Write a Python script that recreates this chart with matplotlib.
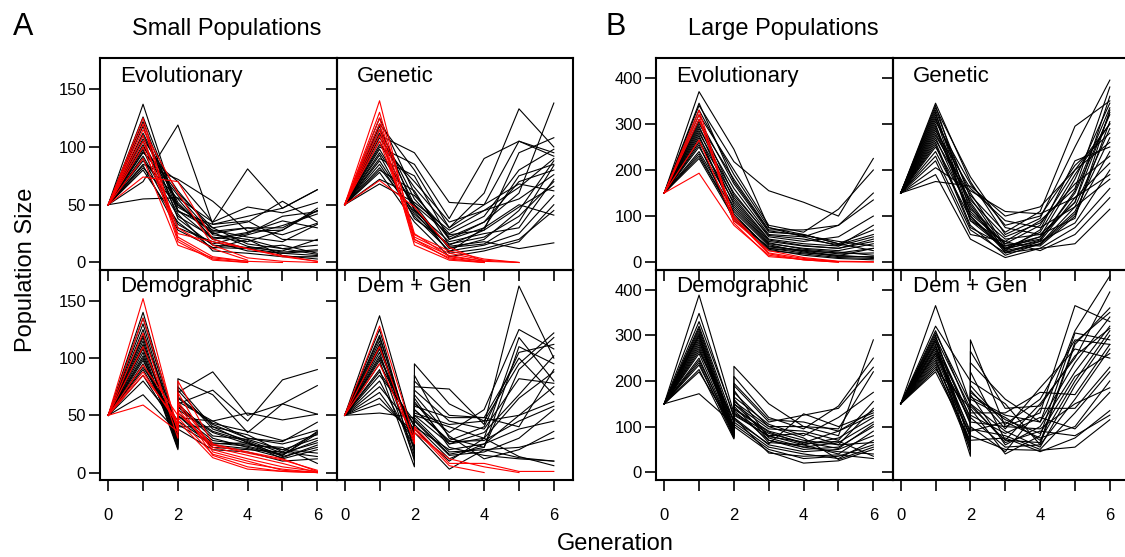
import matplotlib.pyplot as plt

# Generaciones (en los tratamientos "Dem" hay dos valores en la generacion 2)
gens = [0, 1, 2, 3, 4, 5, 6]
gens_dem = [0, 1, 2, 2, 3, 4, 5, 6]

# ---------------- Poblaciones pequeñas ----------------
small_evo_black = [
    [50, 137, 45, 20, 12, 8, 6],
    [50, 70, 119, 33, 40, 47, 63],
    [50, 55, 56, 35, 81, 47, 63],
    [50, 85, 72, 53, 27, 28, 45],
    [50, 95, 70, 35, 48, 43, 52],
    [50, 100, 60, 30, 35, 53, 35],
    [50, 110, 50, 25, 30, 30, 45],
    [50, 105, 45, 28, 22, 18, 33],
    [50, 92, 40, 22, 18, 28, 47],
    [50, 88, 55, 20, 25, 40, 44],
    [50, 118, 38, 15, 13, 10, 20],
    [50, 80, 35, 12, 20, 12, 15],
    [50, 98, 30, 18, 10, 8, 10],
    [50, 126, 48, 30, 16, 12, 7],
    [50, 102, 42, 10, 8, 5, 5],
    [50, 84, 28, 13, 12, 15, 8],
    [50, 112, 52, 21, 26, 36, 30],
    [50, 96, 58, 24, 20, 6, 3],
    [50, 90, 33, 16, 24, 32, 42],
    [50, 107, 62, 27, 30, 24, 34],
    [50, 122, 44, 33, 36, 20, 19],
    [50, 82, 50, 26, 14, 9, 11],
]
small_evo_red = [
    [50, 125, 22, 5, 1],
    [50, 120, 20, 3, 0],
    [50, 110, 18, 2, 0],
    [50, 74, 70, 20, 12, 6, 1],
    [50, 100, 25, 18, 12, 5, 1],
    [50, 90, 15, 4, 1, 0],
    [50, 105, 30, 12, 2],
    [50, 115, 60, 15, 4, 1, 0],
]

small_gen_black = [
    [50, 120, 80, 30, 60, 133, 100],
    [50, 110, 95, 52, 50, 105, 95],
    [50, 100, 85, 38, 90, 105, 92],
    [50, 90, 75, 20, 35, 60, 138],
    [50, 80, 62, 15, 28, 95, 108],
    [50, 72, 58, 25, 40, 80, 98],
    [50, 95, 50, 12, 20, 45, 88],
    [50, 105, 45, 18, 25, 30, 72],
    [50, 85, 40, 10, 15, 25, 58],
    [50, 115, 55, 22, 35, 70, 80],
    [50, 68, 52, 28, 45, 65, 90],
    [50, 98, 48, 8, 12, 20, 45],
    [50, 88, 42, 14, 18, 12, 17],
    [50, 125, 60, 20, 30, 75, 85],
    [50, 78, 35, 5, 10, 18, 50],
    [50, 108, 65, 30, 50, 68, 62],
    [50, 93, 38, 16, 22, 40, 70],
    [50, 102, 70, 35, 45, 55, 76],
    [50, 82, 44, 9, 30, 50, 41],
    [50, 112, 50, 24, 28, 48, 66],
    [50, 118, 46, 13, 16, 35, 84],
]
small_gen_red = [
    [50, 140, 20, 3, 0],
    [50, 130, 25, 5, 1],
    [50, 120, 15, 2, 0],
    [50, 110, 22, 8, 2, 0],
    [50, 71, 48, 13, 1, 0],
    [50, 115, 18, 4, 0],
    [50, 125, 20, 6, 1],
    [50, 105, 24, 10, 3, 0],
]

small_dem_black = [
    [50, 140, 35, 70, 88, 50, 60, 51],
    [50, 130, 28, 60, 72, 45, 81, 90],
    [50, 120, 40, 82, 68, 35, 60, 76],
    [50, 115, 22, 48, 45, 52, 46, 51],
    [50, 110, 30, 65, 42, 30, 27, 44],
    [50, 105, 20, 40, 40, 33, 18, 35],
    [50, 100, 25, 55, 35, 25, 20, 30],
    [50, 95, 33, 72, 38, 28, 17, 26],
    [50, 90, 38, 58, 30, 22, 15, 36],
    [50, 112, 26, 45, 25, 26, 12, 20],
    [50, 85, 36, 52, 28, 24, 22, 8],
    [50, 80, 42, 62, 45, 30, 25, 33],
    [50, 68, 35, 50, 22, 20, 18, 14],
    [50, 118, 24, 50, 26, 23, 16, 28],
    [50, 102, 30, 60, 32, 29, 20, 17],
    [50, 125, 27, 42, 24, 21, 13, 24],
    [50, 98, 37, 66, 43, 36, 28, 37],
    [50, 108, 21, 38, 20, 18, 10, 12],
    [50, 92, 45, 75, 40, 26, 15, 34],
    [50, 135, 32, 57, 36, 27, 14, 22],
]
small_dem_red = [
    [50, 152, 35, 80, 25, 18, 12, 1],
    [50, 135, 40, 70, 18, 10, 2, 0],
    [50, 122, 30, 60, 15, 5, 1, 0],
    [50, 94, 50, 62, 22, 15, 8, 0],
    [50, 85, 45, 55, 20, 12, 5, 1],
    [50, 59, 36, 45, 13, 3, 1, 0],
    [50, 110, 38, 48, 16, 8, 3, 0],
    [50, 88, 42, 52, 24, 17, 11, 2],
]

small_demgen_black = [
    [50, 137, 30, 95, 60, 45, 95, 122],
    [50, 52, 48, 75, 73, 42, 163, 100],
    [50, 120, 20, 60, 35, 55, 125, 108],
    [50, 115, 10, 50, 25, 30, 118, 80],
    [50, 110, 25, 85, 30, 22, 110, 95],
    [50, 105, 15, 55, 28, 40, 105, 112],
    [50, 100, 35, 72, 45, 38, 82, 78],
    [50, 95, 40, 58, 48, 48, 40, 90],
    [50, 90, 5, 40, 20, 25, 50, 62],
    [50, 85, 45, 65, 22, 15, 12, 10],
    [50, 80, 22, 45, 15, 18, 30, 55],
    [50, 75, 38, 52, 42, 45, 50, 75],
    [50, 70, 28, 48, 18, 20, 13, 10],
    [50, 65, 32, 42, 12, 25, 38, 45],
    [50, 125, 18, 38, 10, 30, 65, 88],
    [50, 112, 26, 50, 40, 30, 14, 6],
    [50, 98, 12, 35, 3, 20, 22, 30],
    [50, 88, 42, 62, 25, 35, 68, 102],
    [50, 108, 30, 68, 32, 12, 20, 36],
    [50, 60, 36, 55, 27, 28, 45, 58],
    [50, 118, 24, 46, 16, 22, 90, 118],
    [50, 102, 34, 80, 50, 48, 100, 68],
]
small_demgen_red = [
    [50, 128, 30, 40, 8, 8, 1, 1],
    [50, 95, 28, 38, 6, 0],
    [50, 110, 25, 35, 12, 5, 0],
]

# ---------------- Poblaciones grandes ----------------
large_evo_black = [
    [150, 370, 245, 75, 60, 40, 25],
    [150, 340, 218, 155, 130, 100, 225],
    [150, 320, 200, 80, 65, 115, 200],
    [150, 300, 180, 70, 70, 80, 150],
    [150, 290, 160, 60, 55, 80, 135],
    [150, 280, 150, 55, 45, 55, 100],
    [150, 270, 140, 50, 40, 35, 80],
    [150, 260, 130, 45, 35, 30, 50],
    [150, 250, 120, 40, 30, 25, 40],
    [150, 240, 110, 35, 25, 20, 30],
    [150, 230, 100, 30, 20, 15, 10],
    [150, 225, 95, 25, 18, 10, 8],
    [150, 310, 170, 65, 60, 40, 70],
    [150, 330, 190, 75, 55, 35, 55],
    [150, 285, 125, 42, 28, 22, 15],
    [150, 265, 115, 38, 22, 12, 12],
    [150, 295, 135, 48, 36, 30, 45],
    [150, 275, 105, 28, 15, 8, 5],
    [150, 305, 145, 58, 50, 38, 60],
    [150, 255, 90, 33, 26, 18, 20],
    [150, 345, 175, 68, 58, 45, 35],
    [150, 235, 100, 30, 24, 14, 30],
]
large_evo_red = [
    [150, 193, 80, 15, 5, 0],
    [150, 265, 90, 25, 10, 2, 1],
    [150, 310, 100, 20, 8, 1],
    [150, 330, 95, 18, 5, 0],
    [150, 320, 85, 12, 6, 1, 0],
]

large_gen_black = [
    [150, 345, 175, 60, 95, 250, 395],
    [150, 340, 110, 40, 80, 200, 300],
    [150, 335, 185, 75, 60, 130, 360],
    [150, 330, 140, 30, 55, 180, 345],
    [150, 320, 125, 25, 70, 220, 250],
    [150, 310, 150, 35, 50, 150, 320],
    [150, 300, 90, 45, 90, 160, 380],
    [150, 295, 120, 20, 45, 140, 215],
    [150, 290, 100, 30, 65, 190, 300],
    [150, 285, 160, 90, 75, 120, 290],
    [150, 280, 130, 25, 40, 110, 270],
    [150, 275, 145, 65, 110, 295, 350],
    [150, 270, 105, 40, 35, 100, 305],
    [150, 265, 135, 55, 85, 170, 230],
    [150, 260, 80, 15, 40, 120, 180],
    [150, 250, 115, 50, 60, 95, 330],
    [150, 240, 95, 30, 45, 85, 200],
    [150, 230, 70, 20, 30, 75, 160],
    [150, 220, 60, 45, 25, 60, 140],
    [150, 205, 155, 110, 105, 140, 190],
    [150, 190, 50, 10, 30, 40, 115],
    [150, 175, 165, 100, 120, 200, 260],
    [150, 315, 90, 28, 48, 155, 335],
    [150, 305, 170, 80, 100, 210, 280],
    [150, 255, 75, 35, 55, 130, 325],
    [150, 325, 100, 22, 38, 105, 240],
]
large_gen_red = []

large_dem_black = [
    [150, 388, 130, 232, 150, 100, 80, 290],
    [150, 348, 120, 210, 120, 95, 145, 250],
    [150, 320, 110, 190, 110, 125, 140, 230],
    [150, 315, 100, 175, 100, 100, 95, 220],
    [150, 310, 95, 165, 105, 80, 120, 175],
    [150, 305, 90, 150, 95, 90, 70, 155],
    [150, 300, 85, 140, 90, 70, 60, 140],
    [150, 295, 80, 130, 85, 65, 90, 135],
    [150, 290, 75, 125, 80, 60, 75, 120],
    [150, 285, 110, 180, 75, 55, 65, 110],
    [150, 280, 100, 160, 70, 50, 55, 100],
    [150, 270, 90, 145, 65, 60, 40, 90],
    [150, 260, 85, 120, 60, 45, 50, 80],
    [150, 250, 80, 110, 55, 40, 30, 70],
    [150, 240, 75, 105, 50, 30, 35, 60],
    [150, 225, 73, 100, 45, 20, 25, 50],
    [150, 220, 95, 135, 70, 55, 45, 40],
    [150, 172, 105, 120, 42, 35, 38, 30],
    [150, 330, 125, 195, 115, 110, 90, 125],
    [150, 265, 115, 150, 80, 85, 60, 65],
    [150, 245, 88, 155, 100, 75, 28, 55],
    [150, 300, 78, 115, 62, 128, 100, 130],
    [150, 275, 92, 128, 78, 66, 52, 105],
    [150, 235, 82, 138, 88, 62, 68, 35],
]
large_dem_red = []

large_demgen_black = [
    [150, 365, 150, 290, 100, 130, 365, 330],
    [150, 320, 200, 240, 160, 110, 310, 430],
    [150, 300, 60, 220, 70, 150, 250, 395],
    [150, 295, 140, 200, 150, 60, 280, 360],
    [150, 290, 45, 180, 95, 185, 270, 250],
    [150, 285, 120, 170, 60, 100, 220, 320],
    [150, 280, 35, 160, 120, 70, 200, 310],
    [150, 275, 120, 150, 90, 55, 190, 300],
    [150, 270, 75, 140, 40, 80, 305, 290],
    [150, 265, 110, 130, 130, 175, 170, 280],
    [150, 260, 90, 120, 55, 60, 160, 270],
    [150, 255, 80, 110, 100, 95, 150, 185],
    [150, 250, 55, 100, 45, 140, 140, 230],
    [150, 245, 60, 95, 80, 50, 130, 220],
    [150, 240, 80, 90, 110, 75, 100, 200],
    [150, 235, 50, 80, 50, 48, 55, 115],
    [150, 230, 65, 70, 75, 45, 75, 135],
    [150, 225, 140, 150, 65, 90, 80, 125],
    [150, 220, 70, 125, 85, 120, 95, 175],
    [150, 310, 130, 265, 140, 145, 255, 315],
    [150, 305, 150, 190, 105, 160, 290, 280],
    [150, 290, 105, 165, 125, 110, 240, 340],
    [150, 275, 85, 145, 70, 65, 285, 350],
    [150, 260, 115, 175, 115, 85, 210, 260],
]
large_demgen_red = []

nombres = ['Evolutionary', 'Genetic', 'Demographic', 'Dem + Gen']

W, H = 1125, 557
plt.rcParams['font.family'] = ['Liberation Sans', 'DejaVu Sans']
fig = plt.figure(figsize=(W / 100, H / 100), dpi=100)


def caja(l, t, r, b):
    # pixeles -> fraccion de figura
    return [l / W, 1 - b / H, (r - l) / W, (b - t) / H]


cols_A = [(100, 336.5), (336.5, 573)]
cols_B = [(656, 892.5), (892.5, 1129)]
filas = [(58, 270), (270, 480)]

grupos = [
    (cols_A, [small_evo_black, small_gen_black, small_dem_black, small_demgen_black],
     [small_evo_red, small_gen_red, small_dem_red, small_demgen_red],
     (-6.5, 177), [0, 50, 100, 150]),
    (cols_B, [large_evo_black, large_gen_black, large_dem_black, large_demgen_black],
     [large_evo_red, large_gen_red, large_dem_red, large_demgen_red],
     (-17, 443), [0, 100, 200, 300, 400]),
]

for cols, negras, rojas, ylim, yticks in grupos:
    for k in range(4):
        fila, col = divmod(k, 2)
        l, r = cols[col]
        t, b = filas[fila]
        ax = fig.add_axes(caja(l, t, r, b))
        ax.set_facecolor('none')
        xs = gens_dem if fila == 1 else gens
        for serie in negras[k]:
            ax.plot(xs[:len(serie)], serie, color='black', lw=0.8)
        for serie in rojas[k]:
            ax.plot(xs[:len(serie)], serie, color='red', lw=0.8)

        ax.set_xlim(-0.235, 6.55)
        ax.set_ylim(*ylim)
        ax.set_xticks(gens)
        ax.set_yticks(yticks)
        if fila == 1:
            ax.set_xticklabels(['0', '', '2', '', '4', '', '6'])
        else:
            ax.set_xticklabels([])
        if col == 1:
            ax.set_yticklabels([])
        ax.tick_params(axis='both', direction='out', length=8, width=1.2,
                       labelsize=12)
        ax.tick_params(axis='x', pad=12)
        ax.tick_params(axis='y', pad=2)
        for s in ax.spines.values():
            s.set_linewidth(1.5)
        ax.text(0.085, 0.888 if fila == 0 else 0.894, nombres[k],
                transform=ax.transAxes, fontsize=16, va='baseline', ha='left')

# Letras y titulos
fig.text(13 / W, 1 - 35 / H, 'A', fontsize=22, va='baseline', ha='left')
fig.text(605 / W, 1 - 35 / H, 'B', fontsize=22, va='baseline', ha='left')
fig.text(227 / W, 1 - 35 / H, 'Small Populations', fontsize=17,
         va='baseline', ha='center')
fig.text(783 / W, 1 - 35 / H, 'Large Populations', fontsize=17,
         va='baseline', ha='center')
fig.text(615 / W, 1 - 550 / H, 'Generation', fontsize=17,
         va='baseline', ha='center')
fig.text(32 / W, 1 - 270 / H, 'Population Size', fontsize=17,
         va='baseline', ha='center', rotation=90, rotation_mode='anchor')

plt.savefig('out.png', dpi=100)
plt.close()
